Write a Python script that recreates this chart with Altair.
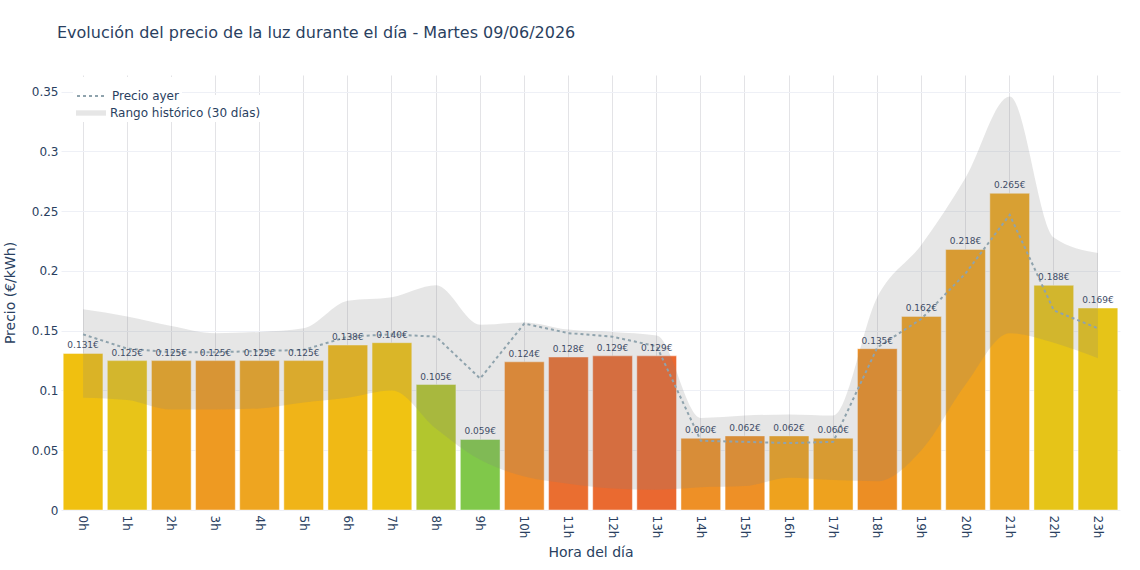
import altair as alt
import pandas as pd

horas = ["0h", "1h", "2h", "3h", "4h", "5h", "6h", "7h", "8h", "9h", "10h", "11h",
         "12h", "13h", "14h", "15h", "16h", "17h", "18h", "19h", "20h", "21h", "22h", "23h"]

precio = [0.131, 0.125, 0.125, 0.125, 0.125, 0.125, 0.138, 0.140, 0.105, 0.059, 0.124, 0.128,
          0.129, 0.129, 0.060, 0.062, 0.062, 0.060, 0.135, 0.162, 0.218, 0.265, 0.188, 0.169]

precio_ayer = [0.147, 0.135, 0.132, 0.132, 0.133, 0.134, 0.145, 0.147, 0.145, 0.110, 0.156, 0.148,
               0.145, 0.137, 0.058, 0.057, 0.056, 0.057, 0.136, 0.160, 0.198, 0.247, 0.167, 0.152]

rango_max = [0.168, 0.162, 0.154, 0.148, 0.149, 0.152, 0.175, 0.178, 0.188, 0.155, 0.157, 0.151,
             0.149, 0.146, 0.077, 0.079, 0.080, 0.079, 0.178, 0.222, 0.278, 0.346, 0.228, 0.215]

rango_min = [0.094, 0.092, 0.084, 0.084, 0.085, 0.090, 0.094, 0.100, 0.068, 0.042, 0.028, 0.022,
             0.018, 0.017, 0.019, 0.020, 0.027, 0.025, 0.024, 0.050, 0.105, 0.148, 0.140, 0.127]

colores = ["#F0C010", "#E8C418", "#EDA51E", "#EE9A22", "#EEA520", "#F0B418", "#F0B915", "#F0C312",
           "#B2C62E", "#80C84A", "#EE8A28", "#EA6E30", "#EA6A30", "#EA6830", "#EE9026", "#EE9026",
           "#EEA21E", "#EEA21E", "#EC8E24", "#EEA020", "#EEA220", "#EEA820", "#E6C418", "#E6C418"]

y_ticks = [0, 0.05, 0.1, 0.15, 0.2, 0.25, 0.3, 0.35]

TITULO = "Evolución del precio de la luz durante el día - Martes 09/06/2026"
SERIE_AYER = "Precio ayer"
SERIE_RANGO = "Rango histórico (30 días)"

df = pd.DataFrame({
    "hora": horas,
    "precio": precio,
    "ayer": precio_ayer,
    "sup": rango_max,
    "inf": rango_min,
    "color": colores,
    "etiqueta": [f"{v:.3f}€" for v in precio],
    "s1": SERIE_AYER,
    "s2": SERIE_RANGO,
})

FONT = "DejaVu Sans"
TXT = "#2a3f5f"

x_enc = alt.X(
    "hora:O", sort=horas,
    scale=alt.Scale(paddingInner=0.1, paddingOuter=0.05),
    axis=alt.Axis(
        title="Hora del día", labelAngle=90, labelAlign="left", labelBaseline="middle",
        labelPadding=5, grid=True, gridColor="#E3E3E6", gridWidth=1,
        titleX=529.5, titleY=42, titleAlign="center", titleBaseline="middle",
    ),
)

y_scale = alt.Scale(domain=[0, 0.364], nice=False, zero=True)
y_axis = alt.Axis(
    title="Precio (€/kWh)", values=y_ticks, format=".2~f", grid=True,
    gridColor="#EEF0F6", gridWidth=1, labelPadding=3,
    titleX=-51, titleY=217.5, titleAngle=270, titleAlign="center", titleBaseline="middle",
)

base = alt.Chart(df)

bars = base.mark_bar(stroke="white", strokeWidth=1, strokeOpacity=0.45).encode(
    x=x_enc,
    y=alt.Y("precio:Q", scale=y_scale, axis=y_axis),
    color=alt.Color("color:N", scale=None),
)

band = base.mark_area(interpolate="monotone", fillOpacity=0.2).encode(
    x=alt.X("hora:O", sort=horas),
    y=alt.Y("sup:Q", scale=y_scale),
    y2="inf:Q",
    fill=alt.Fill(
        "s2:N",
        scale=alt.Scale(domain=[SERIE_RANGO], range=["#808080"]),
        legend=alt.Legend(
            title=None, orient="none", legendX=12, legendY=20,
            symbolType="M-1,-0.18L1,-0.18L1,0.18L-1,0.18Z", symbolSize=900,
            symbolOpacity=0.2, symbolStrokeWidth=0,
            labelFontSize=12, labelColor=TXT, labelFont=FONT, padding=3,
            fillColor="white",
        ),
    ),
)

line = base.mark_line(color="#8FA3AD", strokeWidth=2).encode(
    x=alt.X("hora:O", sort=horas),
    y=alt.Y("ayer:Q", scale=y_scale),
    strokeDash=alt.StrokeDash(
        "s1:N",
        scale=alt.Scale(domain=[SERIE_AYER], range=[[3, 3]]),
        legend=alt.Legend(
            title=None, orient="none", legendX=12, legendY=2,
            symbolType="stroke", symbolSize=900, symbolStrokeColor="#8FA3AD",
            symbolStrokeWidth=2,
            labelFontSize=12, labelColor=TXT, labelFont=FONT, padding=3,
            fillColor="white",
        ),
    ),
)

labels = base.mark_text(baseline="bottom", dy=-3, fontSize=9, color="#3f4d66", font=FONT).encode(
    x=alt.X("hora:O", sort=horas),
    y=alt.Y("precio:Q", scale=y_scale),
    text="etiqueta:N",
)

chart = alt.layer(bars, band, line, labels).properties(
    width=1059,
    height=435,
    background="white",
    autosize=alt.AutoSizeParams(type="none"),
    padding={"left": 61, "top": 75, "right": 20, "bottom": 60},
    title=alt.TitleParams(
        text=TITULO, anchor="start", frame="group", dx=-4, offset=21,
        baseline="alphabetic", fontSize=16, font=FONT, fontWeight="normal", color=TXT,
    ),
).configure_view(stroke=None).configure_axis(
    domain=False, ticks=False, labelFont=FONT, labelFontSize=12, labelColor=TXT,
    titleFont=FONT, titleFontSize=14, titleColor=TXT, titleFontWeight="normal",
)

chart.save("out.html", embed_options={"renderer": "svg", "actions": False})
